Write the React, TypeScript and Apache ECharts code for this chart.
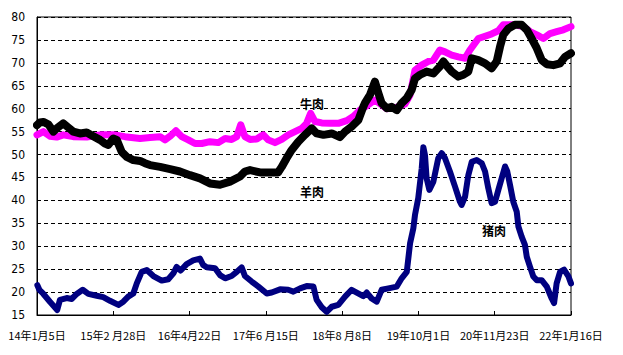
import React, { useEffect, useRef } from "react";
import * as echarts from "echarts";

// x values are day offsets from 2014-01-05
const X_TICK_LABELS = ["14年1月5日", "15年2 月28日", "16年4月22日", "17年6 月15日", "18年8 月8日", "19年10月1日", "20年11月23日", "22年1月16日"];
const TICK_DAYS = 419;
const LAST_DAY = 2933;

const BEEF_DAYS = [0, 35, 71, 108, 144, 199, 273, 346, 419, 483, 566, 621, 676, 703, 731, 763, 795, 831, 868, 905, 950, 996, 1033, 1069, 1097, 1119, 1142, 1170, 1207, 1243, 1270, 1307, 1344, 1380, 1417, 1454, 1481, 1503, 1527, 1564, 1609, 1655, 1701, 1737, 1774, 1818, 1856, 1921, 1976, 2021, 2049, 2076, 2113, 2149, 2177, 2213, 2241, 2278, 2314, 2351, 2378, 2424, 2461, 2497, 2534, 2561, 2589, 2625, 2671, 2708, 2745, 2781, 2818, 2854, 2891, 2933];
const BEEF_VALUES = [54.3, 55.0, 54.0, 53.8, 54.3, 53.9, 53.8, 54.3, 54.3, 53.9, 53.5, 53.7, 53.9, 53.2, 54.0, 55.2, 53.9, 53.2, 52.4, 52.4, 52.8, 52.6, 53.5, 53.3, 53.9, 56.5, 53.9, 53.3, 53.4, 54.3, 53.2, 52.6, 53.3, 54.3, 55.0, 55.7, 56.8, 59.0, 57.2, 56.9, 56.8, 56.8, 57.4, 58.3, 59.7, 60.8, 61.9, 60.0, 60.3, 61.0, 63.0, 68.4, 69.5, 70.3, 70.6, 72.8, 72.4, 71.7, 71.3, 71.0, 72.8, 75.3, 75.8, 76.3, 77.0, 78.3, 78.3, 78.3, 77.9, 76.8, 76.1, 75.3, 76.4, 76.8, 77.2, 77.9];

const MUTTON_DAYS = [0, 16, 35, 62, 90, 108, 144, 172, 199, 236, 273, 309, 346, 373, 392, 419, 438, 465, 493, 529, 566, 593, 621, 676, 731, 785, 840, 895, 950, 1005, 1060, 1115, 1142, 1170, 1225, 1280, 1324, 1344, 1371, 1399, 1435, 1472, 1509, 1536, 1573, 1619, 1664, 1692, 1728, 1765, 1792, 1801, 1829, 1856, 1875, 1893, 1921, 1948, 1976, 2003, 2031, 2058, 2076, 2104, 2140, 2177, 2213, 2232, 2254, 2278, 2314, 2342, 2369, 2388, 2424, 2461, 2497, 2525, 2543, 2561, 2589, 2625, 2662, 2690, 2717, 2745, 2772, 2800, 2836, 2873, 2900, 2933];
const MUTTON_VALUES = [56.4, 57.0, 57.1, 56.6, 55.0, 55.7, 56.8, 55.9, 55.0, 54.6, 54.8, 54.0, 53.2, 52.4, 52.1, 53.5, 53.2, 50.6, 49.5, 48.8, 48.6, 48.1, 47.7, 47.3, 46.8, 46.3, 45.5, 44.8, 43.7, 43.4, 44.1, 45.2, 46.3, 46.6, 46.1, 46.1, 46.1, 47.3, 49.2, 51.0, 52.8, 54.3, 55.7, 54.6, 54.3, 54.6, 53.8, 55.0, 56.1, 57.5, 60.4, 61.2, 63.0, 65.9, 63.4, 61.2, 60.1, 60.4, 59.7, 61.2, 62.3, 64.1, 66.6, 67.4, 68.1, 67.7, 69.2, 70.3, 69.2, 68.1, 67.0, 67.4, 68.1, 71.0, 70.6, 69.9, 68.8, 70.3, 73.5, 76.1, 77.5, 78.3, 78.3, 77.2, 75.3, 73.2, 70.6, 69.7, 69.5, 69.9, 71.3, 72.1];

const PORK_DAYS = [2, 13, 33, 71, 111, 126, 163, 191, 218, 251, 282, 328, 364, 401, 447, 474, 501, 529, 548, 575, 603, 639, 685, 721, 749, 767, 789, 822, 858, 895, 913, 932, 978, 1005, 1033, 1069, 1097, 1124, 1142, 1179, 1216, 1262, 1289, 1335, 1380, 1408, 1445, 1481, 1518, 1536, 1564, 1591, 1619, 1655, 1692, 1728, 1756, 1792, 1811, 1838, 1866, 1893, 1930, 1976, 2003, 2031, 2049, 2067, 2076, 2094, 2113, 2122, 2131, 2140, 2155, 2177, 2204, 2223, 2241, 2268, 2296, 2323, 2332, 2351, 2369, 2388, 2415, 2443, 2461, 2479, 2497, 2516, 2534, 2552, 2571, 2583, 2598, 2616, 2635, 2644, 2662, 2680, 2690, 2708, 2726, 2745, 2772, 2800, 2827, 2840, 2854, 2873, 2895, 2918, 2933];
const PORK_VALUES = [21.5, 20.5, 19.7, 17.9, 16.1, 18.3, 18.7, 18.5, 19.6, 20.5, 19.6, 19.2, 18.9, 18.1, 17.2, 17.9, 19.0, 19.7, 21.9, 24.4, 24.8, 23.5, 22.5, 22.8, 24.1, 25.5, 24.7, 26.1, 26.9, 27.3, 25.9, 25.4, 25.2, 23.7, 23.0, 23.5, 24.4, 25.4, 23.5, 22.3, 21.2, 19.7, 19.9, 20.6, 20.5, 20.1, 20.8, 21.3, 21.2, 18.3, 16.7, 15.7, 16.8, 17.2, 19.0, 20.5, 19.9, 19.1, 19.9, 18.6, 17.9, 20.5, 20.8, 21.2, 23.0, 24.4, 30.6, 33.9, 36.8, 40.5, 47.0, 51.6, 49.9, 44.8, 42.3, 44.1, 49.2, 50.3, 49.2, 46.3, 43.0, 39.7, 39.0, 40.8, 45.5, 48.4, 48.8, 48.1, 46.3, 42.6, 39.4, 39.7, 42.3, 44.8, 47.4, 46.3, 43.4, 39.7, 37.5, 34.3, 32.1, 30.3, 27.7, 25.5, 23.4, 22.6, 22.6, 21.2, 18.6, 17.6, 21.9, 24.4, 24.9, 23.5, 21.9];

// series name labels: [day, value, text]
const NAME_LABELS: [number, number, string][] = [
  [1510, 61.2, "牛肉"],
  [1510, 42.0, "羊肉"],
  [2510, 33.5, "猪肉"],
];

const zip = (xs: number[], ys: number[]) => xs.map((x, i) => [x, ys[i]]);

export default function App() {
  const ref = useRef<HTMLDivElement>(null);
  useEffect(() => {
    if (!ref.current) return;
    const chart = echarts.init(ref.current, undefined, { renderer: "svg" });
    const labelFont = '"Noto Sans CJK SC", sans-serif';
    const mkLine = (name: string, data: number[][], color: string, width: number, label?: [number, number, string]) => ({
      type: "line",
      name,
      data,
      showSymbol: false,
      symbol: "none",
      lineStyle: { color, width, join: "round", cap: "round" },
      itemStyle: { color },
      markPoint: label
        ? {
            symbol: "circle",
            symbolSize: 0,
            data: [{ coord: [label[0], label[1]] }],
            label: {
              show: true,
              position: "inside",
              formatter: label[2],
              color: "#000",
              fontWeight: "bold",
              fontSize: 12,
              fontFamily: labelFont,
            },
          }
        : undefined,
    });
    chart.setOption({
      animation: false,
      backgroundColor: "#fff",
      grid: {
        left: 37,
        right: 52,
        top: 17,
        bottom: 40,
        show: true,
        borderColor: "#000",
        borderWidth: 1,
        backgroundColor: "transparent",
      },
      xAxis: {
        type: "value",
        min: 0,
        max: LAST_DAY,
        interval: TICK_DAYS,
        axisLine: { show: true, lineStyle: { color: "#000", width: 1 } },
        axisTick: { show: true, inside: true, length: 4, lineStyle: { color: "#000" } },
        splitLine: { show: false },
        axisLabel: {
          color: "#000",
          fontSize: 11,
          fontFamily: labelFont,
          margin: 14,
          showMaxLabel: true,
          showMinLabel: true,
          formatter: (v: number) => X_TICK_LABELS[Math.round(v / TICK_DAYS)] ?? "",
        },
      },
      yAxis: {
        type: "value",
        min: 15,
        max: 80,
        interval: 5,
        axisLine: { show: true, lineStyle: { color: "#000", width: 1 } },
        axisTick: { show: false },
        splitLine: { show: true, lineStyle: { color: "#000", type: [4, 3], width: 1 } },
        axisLabel: {
          color: "#000",
          fontSize: 12,
          margin: 12,
          fontFamily: '"Liberation Sans Narrow", "DejaVu Sans Condensed", "Noto Sans", sans-serif',
        },
      },
      series: [
        mkLine("牛肉", zip(BEEF_DAYS, BEEF_VALUES), "#ff00ff", 7, NAME_LABELS[0]),
        mkLine("羊肉", zip(MUTTON_DAYS, MUTTON_VALUES), "#000000", 8, NAME_LABELS[1]),
        mkLine("猪肉", zip(PORK_DAYS, PORK_VALUES), "#000080", 6, NAME_LABELS[2]),
      ],
    });
    return () => chart.dispose();
  }, []);
  return <div ref={ref} style={{ position: "fixed", left: 0, top: 0, width: 623, height: 355 }} />;
}
